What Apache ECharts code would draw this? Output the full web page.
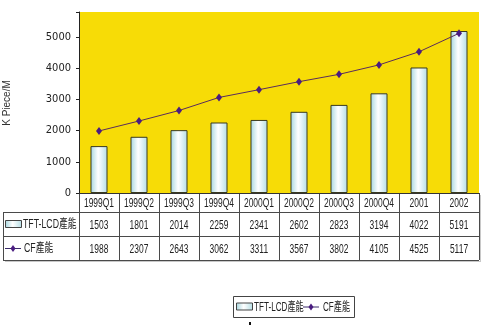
<!DOCTYPE html>
<html>
<head>
<meta charset="utf-8">
<script src="https://cdn.jsdelivr.net/npm/echarts@6/dist/echarts.min.js"></script>
<style>
  html, body { margin: 0; padding: 0; background: #ffffff; }
  #chart { width: 500px; height: 330px; }
</style>
</head>
<body>
<div id="chart"></div>
<script>
// Quarterly / yearly periods
const periods = ['1999Q1', '1999Q2', '1999Q3', '1999Q4', '2000Q1', '2000Q2', '2000Q3', '2000Q4', '2001', '2002'];
// TFT-LCD capacity (K Piece/M)
const tftValues = [1503, 1801, 2014, 2259, 2341, 2602, 2823, 3194, 4022, 5191];
// Color filter capacity (K Piece/M)
const cfValues = [1988, 2307, 2643, 3062, 3311, 3567, 3802, 4105, 4525, 5117];
// Series names
const tftName = 'TFT-LCD產能';
const cfName = 'CF產能';
const yTitle = 'K Piece/M';

const FONT = '"Liberation Sans", "Noto Sans CJK TC", sans-serif';
const COND_FONT = '"DejaVu Sans Condensed", "Liberation Sans Narrow", "Liberation Sans", sans-serif';

// plot geometry
const G = { left: 79, top: 12, width: 400, height: 181 };
const tableLeft = 3;
const rowEdges = [G.top + G.height, 212, 236, 260];

const barFill = new echarts.graphic.LinearGradient(0, 0, 1, 0, [
  { offset: 0, color: '#a6d6de' },
  { offset: 0.45, color: '#ffffff' },
  { offset: 1, color: '#b4dde4' }
]);

const chart = echarts.init(document.getElementById('chart'), null, { renderer: 'canvas' });

// condensed text element (horizontally squeezed)
function narrowText(x, y, text, align, size, squeeze) {
  return {
    type: 'text', x: x, y: y, scaleX: squeeze, silent: true,
    style: {
      x: 0, y: 0, text: text, textAlign: align, textVerticalAlign: 'middle',
      font: size + 'px ' + FONT, fill: '#222'
    }
  };
}

function barKey(x, y) {
  return { type: 'rect', shape: { x: x + 0.5, y: y - 3.5, width: 16, height: 7 }, style: { fill: barFill, stroke: '#444', lineWidth: 1 } };
}
function lineKey(x, y) {
  return [
    { type: 'line', shape: { x1: x, y1: y + 0.5, x2: x + 16, y2: y + 0.5 }, style: { stroke: '#3a2a6a', lineWidth: 1 } },
    { type: 'polygon', shape: { points: [[x + 8, y - 3], [x + 10.5, y + 0.5], [x + 8, y + 4], [x + 5.5, y + 0.5]] }, style: { fill: '#4a1c80' } }
  ];
}

// data table drawn beneath the category axis, plus key box and axis title
function buildGraphics() {
  const els = [];
  const colW = G.width / periods.length;
  const right = G.left + G.width;
  const lineStyle = { stroke: '#4a4a4a', lineWidth: 1 };
  // horizontal rules
  rowEdges.forEach((y, i) => {
    const x0 = i === 0 ? G.left : tableLeft;
    els.push({ type: 'line', shape: { x1: x0, y1: y + 0.5, x2: right, y2: y + 0.5 }, style: lineStyle, silent: true });
  });
  // vertical rules
  els.push({ type: 'line', shape: { x1: tableLeft + 0.5, y1: rowEdges[1], x2: tableLeft + 0.5, y2: rowEdges[3] }, style: lineStyle });
  for (let i = 0; i <= periods.length; i++) {
    const x = Math.round(G.left + i * colW) + 0.5;
    els.push({ type: 'line', shape: { x1: x, y1: rowEdges[0], x2: x, y2: rowEdges[3] }, style: lineStyle });
  }
  // soft shadow on right / bottom
  els.push({ type: 'line', shape: { x1: right + 1.5, y1: rowEdges[0] + 2, x2: right + 1.5, y2: rowEdges[3] + 2 }, style: { stroke: '#c8c8c8', lineWidth: 1 } });
  els.push({ type: 'line', shape: { x1: tableLeft + 2, y1: rowEdges[3] + 1.5, x2: right + 2, y2: rowEdges[3] + 1.5 }, style: { stroke: '#c8c8c8', lineWidth: 1 } });

  const rows = [periods, tftValues, cfValues];
  rows.forEach((vals, r) => {
    const cy = (rowEdges[r] + rowEdges[r + 1]) / 2 + 1;
    vals.forEach((v, i) => {
      els.push(narrowText(G.left + (i + 0.5) * colW, cy, String(v), 'center', 13, 0.65));
    });
  });

  // row headers with key symbols
  const y1 = (rowEdges[1] + rowEdges[2]) / 2;
  const y2 = (rowEdges[2] + rowEdges[3]) / 2;
  els.push(barKey(5, y1));
  els.push(narrowText(23, y1 + 1, tftName, 'left', 12.5, 0.7));
  els.push(...lineKey(5, y2));
  els.push(narrowText(24, y2 + 1, cfName, 'left', 12.5, 0.7));

  // key box below the table
  const lx = 233, ly = 296, lw = 121, lh = 21;
  els.push({ type: 'rect', shape: { x: lx + 0.5, y: ly + 0.5, width: lw, height: lh }, style: { fill: '#fff', stroke: '#444', lineWidth: 1 } });
  const lcy = ly + lh / 2;
  els.push(barKey(lx + 3, lcy));
  els.push(narrowText(lx + 21, lcy + 1, tftName, 'left', 12.5, 0.65));
  els.push(...lineKey(lx + 70, lcy));
  els.push(narrowText(lx + 90, lcy + 1, cfName, 'left', 12.5, 0.65));

  // y-axis title
  els.push({
    type: 'text', rotation: Math.PI / 2, x: 7, y: 103,
    style: { x: 0, y: 0, text: yTitle, textAlign: 'center', textVerticalAlign: 'middle', font: '10px "Liberation Sans", sans-serif', fill: '#333' }
  });
  // small stray mark under the key box
  els.push({ type: 'rect', shape: { x: 249, y: 322, width: 2, height: 3 }, style: { fill: '#111' } });
  return els;
}

chart.setOption({
  animation: false,
  backgroundColor: '#ffffff',
  grid: {
    left: G.left, top: G.top, width: G.width, height: G.height,
    show: true, backgroundColor: '#f7dc06', borderWidth: 0
  },
  legend: { show: false },
  xAxis: {
    type: 'category',
    data: periods,
    axisLine: { show: true, lineStyle: { color: '#333' } },
    axisTick: { show: false },
    axisLabel: { show: false },
    splitLine: { show: false }
  },
  yAxis: {
    type: 'value',
    min: 0, max: 5800, interval: 1000,
    axisLine: { show: true, lineStyle: { color: '#222' } },
    axisTick: { show: true, length: 3, lineStyle: { color: '#222' } },
    splitLine: { show: false },
    axisLabel: {
      fontFamily: COND_FONT, fontSize: 11, color: '#222', margin: 8,
      formatter: v => (v % 1000 === 0 ? String(v) : '')
    }
  },
  series: [
    {
      name: tftName,
      type: 'bar',
      data: tftValues,
      barWidth: 17,
      itemStyle: { color: barFill, borderColor: '#3a3a20', borderWidth: 1 }
    },
    {
      name: cfName,
      type: 'line',
      data: cfValues,
      symbol: 'diamond',
      symbolSize: [6, 8],
      itemStyle: { color: '#4a1c80' },
      lineStyle: { color: '#5a2c5c', width: 1 }
    }
  ],
  graphic: buildGraphics()
});
</script>
</body>
</html>
